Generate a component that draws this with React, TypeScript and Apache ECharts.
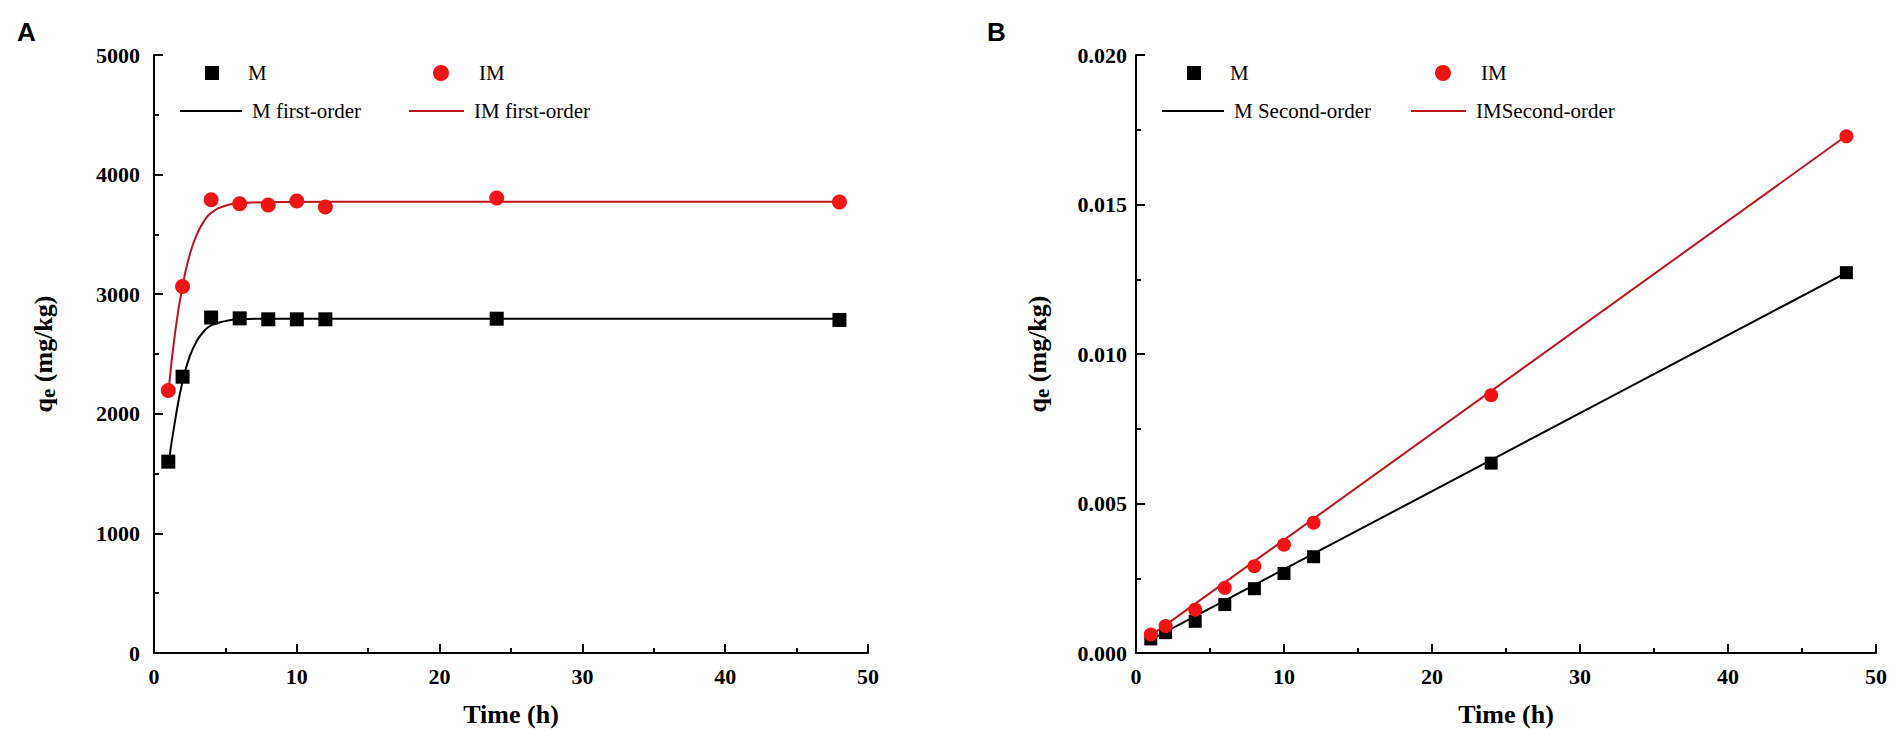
import React, { useEffect, useRef } from "react";
import * as echarts from "echarts";

// ---- Data ----
const timePoints = [1, 2, 4, 6, 8, 10, 12, 24, 48];

// Panel A: qe (mg/kg) vs time
const mQeA = [1600, 2310, 2805, 2798, 2790, 2790, 2790, 2795, 2785];
const imQeA = [2195, 3065, 3790, 3756, 3745, 3780, 3730, 3805, 3770];

// Panel A: first-order fitted curves
const fitTimeA = [1, 1.5, 2, 2.5, 3, 3.5, 4, 5, 6, 8, 12, 24, 48];
const mFitA = [1570, 1960, 2270, 2480, 2610, 2690, 2740, 2775, 2790, 2795, 2795, 2795, 2795];
const imFitA = [2170, 2700, 3070, 3330, 3500, 3610, 3680, 3740, 3760, 3770, 3772, 3772, 3772];

// Panel B: second-order plot
const mB = [0.00047, 0.00068, 0.00106, 0.00162, 0.00215, 0.00266, 0.00322, 0.00635, 0.01272];
const imB = [0.00062, 0.0009, 0.00145, 0.00218, 0.0029, 0.00362, 0.00436, 0.00862, 0.01728];
const fitTimeB = [1, 48];
const mFitB = [0.00045, 0.01272];
const imFitB = [0.00058, 0.0173];

// Tick labels
const xTicks = [0, 10, 20, 30, 40, 50];
const yTicksA = [0, 1000, 2000, 3000, 4000, 5000];
const yTicksB = [0, 0.005, 0.01, 0.015, 0.02];

const SERIF = "Liberation Serif";
const BLACK = "#000000";
const RED_PT = "#f01414";
const RED_LN = "#c0141c";

const zip = (xs: number[], ys: number[]) => xs.map((x, i) => [x, ys[i]]);

const GRID_TOP = 55;
const GRID_H = 598;
const A_LEFT = 154;
const A_W = 714;
const B_LEFT = 1136;
const B_W = 740;

function xAxisCfg(gridIndex: number) {
  return {
    type: "value",
    gridIndex,
    min: xTicks[0],
    max: xTicks[xTicks.length - 1],
    interval: 10,
    name: "Time (h)",
    nameLocation: "middle",
    nameGap: 48,
    nameTextStyle: { fontFamily: SERIF, fontWeight: "bold", fontSize: 26, color: BLACK },
    axisLine: { show: true, lineStyle: { color: BLACK, width: 2 } },
    axisTick: { show: true, inside: true, length: 9, lineStyle: { color: BLACK, width: 2 } },
    minorTick: { show: true, splitNumber: 2, length: 5, lineStyle: { color: BLACK, width: 2 } },
    axisLabel: { fontFamily: SERIF, fontWeight: "bold", fontSize: 22, color: BLACK, margin: 12 },
    splitLine: { show: false },
  };
}

function yAxisCfg(gridIndex: number, ticks: number[], interval: number, gap: number, margin: number, fmt: (v: number) => string) {
  return {
    type: "value",
    gridIndex,
    min: ticks[0],
    max: ticks[ticks.length - 1],
    interval,
    name: "{q|q}{e|e}{t| (mg/kg)}",
    nameLocation: "middle",
    nameGap: gap,
    nameRotate: 90,
    nameTextStyle: {
      fontFamily: SERIF,
      fontWeight: "bold",
      fontSize: 26,
      color: BLACK,
      rich: {
        q: { fontFamily: SERIF, fontWeight: "bold", fontSize: 26, lineHeight: 30, color: BLACK },
        e: { fontFamily: SERIF, fontWeight: "bold", fontSize: 21, lineHeight: 22, verticalAlign: "bottom", color: BLACK },
        t: { fontFamily: SERIF, fontWeight: "bold", fontSize: 26, lineHeight: 30, color: BLACK },
      },
    },
    axisLine: { show: true, lineStyle: { color: BLACK, width: 2 } },
    axisTick: { show: true, inside: true, length: 9, lineStyle: { color: BLACK, width: 2 } },
    minorTick: { show: true, splitNumber: 2, length: 5, lineStyle: { color: BLACK, width: 2 } },
    axisLabel: {
      fontFamily: SERIF,
      fontWeight: "bold",
      fontSize: 22,
      color: BLACK,
      margin,
      formatter: fmt,
    },
    splitLine: { show: false },
  };
}

function legendGraphics(axisLeft: number, lineLabelM: string, lineLabelIM: string, redShift: number) {
  const row1 = 73;
  const row2 = 111;
  const txt = { fontFamily: SERIF, fontSize: 21, fill: BLACK, verticalAlign: "middle", align: "left" };
  return [
    { type: "rect", shape: { x: axisLeft + 51, y: row1 - 7, width: 14, height: 14 }, style: { fill: BLACK } },
    { type: "text", x: axisLeft + 94, y: row1, style: { ...txt, text: "M" } },
    { type: "circle", shape: { cx: axisLeft + 287 + redShift, cy: row1, r: 8 }, style: { fill: RED_PT } },
    { type: "text", x: axisLeft + 325 + redShift, y: row1, style: { ...txt, text: "IM" } },
    { type: "line", shape: { x1: axisLeft + 26, y1: row2, x2: axisLeft + 88, y2: row2 }, style: { stroke: BLACK, lineWidth: 2 } },
    { type: "text", x: axisLeft + 98, y: row2, style: { ...txt, text: lineLabelM } },
    { type: "line", shape: { x1: axisLeft + 255 + redShift, y1: row2, x2: axisLeft + 310 + redShift, y2: row2 }, style: { stroke: RED_LN, lineWidth: 2 } },
    { type: "text", x: axisLeft + 320 + redShift, y: row2, style: { ...txt, text: lineLabelIM } },
  ];
}

function fitLine(name: string, xi: number, xs: number[], ys: number[], color: string, smooth: number | boolean) {
  return {
    name,
    type: "line",
    xAxisIndex: xi,
    yAxisIndex: xi,
    data: zip(xs, ys),
    smooth,
    showSymbol: false,
    symbol: "none",
    lineStyle: { color, width: 2 },
    itemStyle: { color },
    z: 2,
  };
}

function points(name: string, xi: number, ys: number[], symbol: string, size: number, color: string) {
  return {
    name,
    type: "scatter",
    xAxisIndex: xi,
    yAxisIndex: xi,
    data: zip(timePoints, ys),
    symbol,
    symbolSize: size,
    itemStyle: { color, opacity: 1 },
    z: 3,
  };
}

function buildOption() {
  return {
    animation: false,
    backgroundColor: "#ffffff",
    title: [
      { text: "A", left: 12, top: 14, textStyle: { fontFamily: "Liberation Sans", fontWeight: "bold", fontSize: 26, color: BLACK } },
      { text: "B", left: 982, top: 14, textStyle: { fontFamily: "Liberation Sans", fontWeight: "bold", fontSize: 26, color: BLACK } },
    ],
    grid: [
      { left: A_LEFT, top: GRID_TOP, width: A_W, height: GRID_H },
      { left: B_LEFT, top: GRID_TOP, width: B_W, height: GRID_H },
    ],
    xAxis: [xAxisCfg(0), xAxisCfg(1)],
    yAxis: [
      yAxisCfg(0, yTicksA, 1000, 96, 14, (v: number) => String(v)),
      yAxisCfg(1, yTicksB, 0.005, 84, 9, (v: number) => v.toFixed(3)),
    ],
    graphic: [
      ...legendGraphics(A_LEFT, "M first-order", "IM first-order", 0),
      ...legendGraphics(B_LEFT, "M Second-order", "IMSecond-order", 20),
    ],
    series: [
      fitLine("M first-order", 0, fitTimeA, mFitA, BLACK, 0.5),
      fitLine("IM first-order", 0, fitTimeA, imFitA, RED_LN, 0.5),
      points("M", 0, mQeA, "rect", 14, BLACK),
      points("IM", 0, imQeA, "circle", 15, RED_PT),
      fitLine("M Second-order", 1, fitTimeB, mFitB, BLACK, false),
      fitLine("IMSecond-order", 1, fitTimeB, imFitB, RED_LN, false),
      points("M", 1, mB, "rect", 13, BLACK),
      points("IM", 1, imB, "circle", 14, RED_PT),
    ],
  };
}

export default function App() {
  const ref = useRef<HTMLDivElement>(null);
  useEffect(() => {
    if (!ref.current) return;
    const chart = echarts.init(ref.current, null, { renderer: "svg" });
    chart.setOption(buildOption() as any);
    return () => {
      chart.dispose();
    };
  }, []);
  return (
    <div
      ref={ref}
      style={{ position: "absolute", left: 0, top: 0, width: 1904, height: 737, background: "#ffffff" }}
    />
  );
}
